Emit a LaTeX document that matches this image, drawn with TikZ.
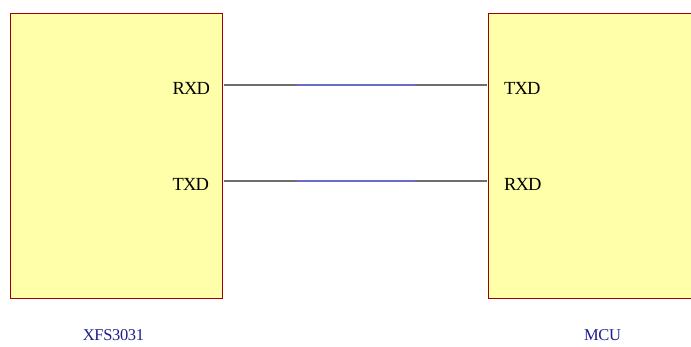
\documentclass[tikz,border=0pt]{standalone}
\usepackage{fontspec}
\setmainfont{Liberation Serif}
\newfontfamily\pinfont[LetterSpace=-5]{Liberation Serif}
\newfontfamily\namefont[LetterSpace=-2]{Liberation Serif}
\definecolor{chipfill}{HTML}{FFFFAA}
\definecolor{chipline}{HTML}{A00000}
\definecolor{wiregray}{HTML}{6E6E6E}
\definecolor{wireblue}{HTML}{6A6AD0}
\definecolor{namecol}{HTML}{1C1C8C}
\begin{document}
\begin{tikzpicture}[x=1pt,y=-1pt,
  chip/.style={draw=chipline, fill=chipfill, line width=1.1pt, anchor=north west, inner sep=0pt},
  pin/.style={font=\pinfont\fontsize{18.5}{18.5}\selectfont, text=black, inner sep=0pt, anchor=base west},
  title/.style={font=\namefont\fontsize{16.5}{16.5}\selectfont, text=namecol, inner sep=0pt, anchor=base},
  wireend/.style={draw=wiregray, line width=1.2pt},
  wiremid/.style={draw=wireblue, line width=1.2pt}]
  \useasboundingbox (0,0) rectangle (691,346);
  \clip (0,0) rectangle (691,346);

  % the two devices
  \node[chip, minimum width=212.5pt, minimum height=285pt] (xfs) at (9.5,13) {};
  \node[chip, minimum width=230pt, minimum height=285pt] (mcu) at (487.5,13) {};

  % pin labels
  \node[pin] (xrxd) at (172.5,94) {RXD};
  \node[pin] (xtxd) at (172.5,190) {TXD};
  \node[pin] (mtxd) at (504,94) {TXD};
  \node[pin] (mrxd) at (504,190) {RXD};

  % device names
  \node[title] (xname) at (113.5,340) {XFS3031};
  \node[title] (mname) at (602.5,340) {MCU};

  % wire bend points
  \coordinate (a1) at (224,85);  \coordinate (a2) at (297,85);
  \coordinate (a3) at (415,85);  \coordinate (a4) at (487,85);
  \coordinate (b1) at (224,181); \coordinate (b2) at (297,181);
  \coordinate (b3) at (415,181); \coordinate (b4) at (487,181);

  % RXD -- TXD
  \draw[wireend] (a1) -- (a2);
  \draw[wiremid] (a2) -- (a3);
  \draw[wireend] (a3) -- (a4);
  % TXD -- RXD
  \draw[wireend] (b1) -- (b2);
  \draw[wiremid] (b2) -- (b3);
  \draw[wireend] (b3) -- (b4);
\end{tikzpicture}
\end{document}
